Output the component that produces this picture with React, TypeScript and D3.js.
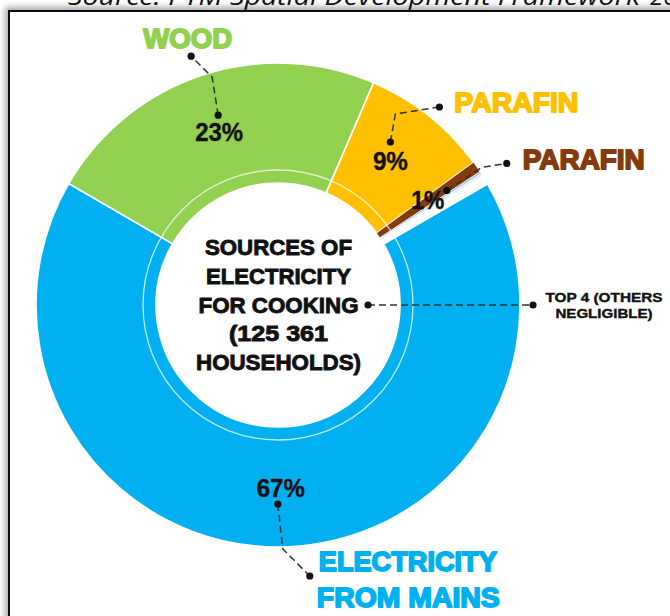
import React from "react";
import * as d3 from "d3";

// ---- data ----
const CATEGORIES = ["Electricity from mains", "Wood", "Parafin", "Parafin (2)", "Other 1", "Other 2", "Other 3"];
const SHARES = [66.7, 23.1, 8.5, 0.75, 0.15, 0.15, 0.65];
const PCT_LABELS = ["67%", "23%", "9%", "1%"];
const NAME_LABELS = [["ELECTRICITY", "FROM MAINS"], ["WOOD"], ["PARAFIN"], ["PARAFIN"]];
const CENTER_LINES = ["SOURCES OF", "ELECTRICITY", "FOR COOKING", "(125 361", "HOUSEHOLDS)"];
const NOTE_LINES = ["TOP 4 (OTHERS", "NEGLIGIBLE)"];
const TITLE = "Source: PTM Spatial Development Framework";
const TITLE_YEAR = "2020";

// ---- style / layout ----
const COLORS = ["#00B0F0", "#92D050", "#FFC000", "#843C0C", "#9DC3E6", "#DDEBF7", "#FFFFFF"];
const W = 670, H = 616;
const CX = 278, CY = 305, R_OUT = 242, R_IN = 122, R_RING = 135;
const START = (60 * Math.PI) / 180;

const LAYOUT = [
  { dA: 0, r: 199, elbow: [5, 45], end: [32, 72], pct: [3, -7], pctW: 48, name: [9, -5], anchor: "start", nameW: [178, 183], lineDx: [0, -2] },
  { dA: 0.8, r: 199, elbow: [-6, -38], end: [-27, -59], pct: [1, 26], pctW: 48, name: [-3.5, -8], anchor: "middle", nameW: [89], lineDx: [0] },
  { dA: -4, r: 198, elbow: [5, -28], end: [49, -35], pct: [0, 28], pctW: 35, name: [15, 5], anchor: "start", nameW: [124], lineDx: [0] },
  { dA: 0.6, r: 204, elbow: [35, -23], end: [60, -27], pct: [-19, 19], pctW: 33, name: [16, 6], anchor: "start", nameW: [122], lineDx: [0] },
];
const CENTER_W = [147, 145, 160, 99, 165];

export default function App() {
  const pie = d3
    .pie<number>()
    .sort(null)
    .value((d) => d)
    .startAngle(START)
    .endAngle(START + 2 * Math.PI);
  const arcs = pie(SHARES);
  const arc = d3.arc<d3.PieArcDatum<number>>().innerRadius(R_IN).outerRadius(R_OUT);

  const dots = LAYOUT.map((L, i) => {
    const a = (arcs[i].startAngle + arcs[i].endAngle) / 2 + (L.dA * Math.PI) / 180;
    return [CX + L.r * Math.sin(a), CY - L.r * Math.cos(a)];
  });

  const boldFont = "'Liberation Sans', Arial, sans-serif";

  return (
    <svg
      width={W}
      height={H}
      viewBox={`0 0 ${W} ${H}`}
      style={{ position: "fixed", left: 0, top: 0, background: "#fff" }}
    >
      <defs>
        <filter id="sh" x="-10%" y="-10%" width="130%" height="130%">
          <feDropShadow dx={-3} dy={-3} stdDeviation={3} floodColor="#000" floodOpacity={0.35} />
        </filter>
      </defs>
      <rect x={0} y={0} width={W} height={H} fill="#fff" />
      <rect x={9} y={11} width={W + 40} height={H + 40} fill="#fff" stroke="#111" strokeWidth={2} filter="url(#sh)" />
      <text x={68} y={5} fontFamily="'Open Sans', sans-serif" fontStyle="italic" fontSize={24} fill="#111" textLength={572} lengthAdjust="spacingAndGlyphs">
        {TITLE}
      </text>
      <text x={650} y={5} fontFamily="'Open Sans', sans-serif" fontStyle="italic" fontSize={24} fill="#111">
        {TITLE_YEAR}
      </text>

      <g transform={`translate(${CX},${CY})`}>
        {arcs.map((d, i) => (
          <path key={CATEGORIES[i]} d={arc(d) || ""} fill={COLORS[i]} stroke="#fff" strokeWidth={i >= 3 ? 0.6 : 1.6} />
        ))}
        <circle r={R_RING} fill="none" stroke="#fff" strokeWidth={1.3} strokeOpacity={0.75} />
      </g>

      {CENTER_LINES.map((t, i) => (
        <text
          key={t}
          x={CX + 0.5}
          y={255 + i * 28.75}
          textAnchor="middle"
          fontFamily={boldFont}
          fontWeight="bold"
          fontSize={22}
          fill="#111"
          stroke="#111"
          strokeWidth={0.9}
          textLength={CENTER_W[i]}
          lengthAdjust="spacingAndGlyphs"
        >
          {t}
        </text>
      ))}

      <line x1={CX + 90} y1={CY} x2={CX + 255} y2={CY} stroke="#333" strokeWidth={1.5} strokeDasharray="7 4" />
      <circle cx={CX + 90} cy={CY} r={3.6} fill="#111" />
      <circle cx={CX + 255} cy={CY} r={3.6} fill="#111" />
      {NOTE_LINES.map((t, i) => (
        <text
          key={t}
          x={604}
          y={302 + i * 16}
          textAnchor="middle"
          fontFamily={boldFont}
          fontWeight="bold"
          fontSize={13.5}
          fill="#111"
          stroke="#111"
          strokeWidth={0.4}
          textLength={i === 0 ? 117 : 97}
          lengthAdjust="spacingAndGlyphs"
        >
          {t}
        </text>
      ))}

      {LAYOUT.map((L, i) => {
        const [dx, dy] = dots[i];
        const ex = dx + L.elbow[0], ey = dy + L.elbow[1];
        const tx = dx + L.end[0], ty = dy + L.end[1];
        return (
          <g key={"lab" + i}>
            <text
              x={dx + L.pct[0]}
              y={dy + L.pct[1]}
              textAnchor="middle"
              fontFamily={boldFont}
              fontWeight="bold"
              fontSize={25}
              fill="#111"
              stroke="#111"
              strokeWidth={0.4}
              textLength={L.pctW}
              lengthAdjust="spacingAndGlyphs"
            >
              {PCT_LABELS[i]}
            </text>
            <polyline
              points={`${dx},${dy} ${ex},${ey} ${tx},${ty}`}
              fill="none"
              stroke="#333"
              strokeWidth={1.5}
              strokeDasharray="7 4"
            />
            <circle cx={dx} cy={dy} r={3.6} fill="#111" />
            <circle cx={tx} cy={ty} r={3.6} fill="#111" />
            {NAME_LABELS[i].map((t, j) => (
              <text
                key={t}
                x={tx + L.name[0] + L.lineDx[j]}
                y={ty + L.name[1] + j * 36}
                textAnchor={L.anchor as any}
                fontFamily={boldFont}
                fontWeight="bold"
                fontSize={28}
                fill={COLORS[i]}
                stroke={COLORS[i]}
                strokeWidth={1.8}
                strokeLinejoin="round"
                textLength={L.nameW[j]}
                lengthAdjust="spacingAndGlyphs"
              >
                {t}
              </text>
            ))}
          </g>
        );
      })}
    </svg>
  );
}
